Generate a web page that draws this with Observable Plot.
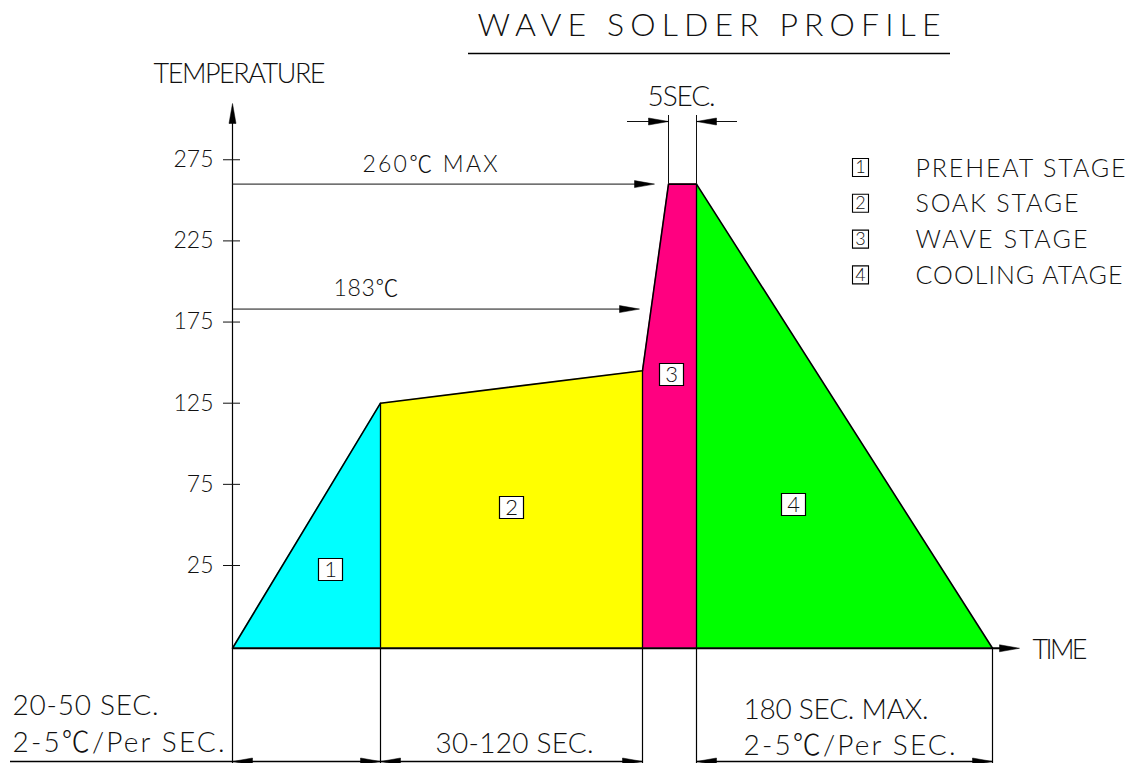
<!DOCTYPE html>
<html><head><meta charset="utf-8">
<script src="https://cdn.jsdelivr.net/npm/d3@7"></script>
<script src="https://cdn.jsdelivr.net/npm/@observablehq/plot@0.6"></script>
<style>html,body{margin:0;padding:0;background:#fff;overflow:hidden}</style>
</head><body><div id="chart"></div>
<script>
// ---- data ----
const stageNumbers = ["1", "2", "3", "4"];
const stageNames = ["PREHEAT STAGE", "SOAK STAGE", "WAVE STAGE", "COOLING ATAGE"];
const stageColors = ["#00ffff", "#ffff00", "#ff0080", "#00ff00"];
const stageStart = [0, 74, 205, 232];
const stageEnd = [74, 205, 232, 380];
const profileTime = [0, 74, 205, 218, 232, 380];
const profileTemp = [-26, 125, 145, 260, 260, -26];
const yTicks = [25, 75, 125, 175, 225, 275];
const yTickLabels = ["25", "75", "125", "175", "225", "275"];
const baseTemp = -26;
const peakTemp = 260;
const liquidusTemp = 183;
const titleText = "WAVE SOLDER PROFILE";
const yTitle = "TEMPERATURE";
const xTitle = "TIME";
const peakLabel = "260℃ MAX";
const liquidusLabel = "183℃";
const dwellLabel = "5SEC.";
const preheatLabels = ["20-50 SEC.", "2-5℃/Per SEC."];
const soakLabel = "30-120 SEC.";
const coolingLabels = ["180 SEC. MAX.", "2-5℃/Per SEC."];

// ---- layout helpers (pixel -> scale units, for annotations only) ----
const X = p => (p - 232) / 2;
const Y = p => 25 + (565 - p) / 1.623;
const font = "Lato,'Noto Sans CJK JP','DejaVu Sans Condensed',sans-serif";
const weight = 300;
const ink = "#111";
// target text widths in pixels (CAD lettering is widely spaced)
const textWidths = new Map([
  [titleText, 463], [yTitle, 172], [xTitle, 55], [peakLabel, 135], [liquidusLabel, 65],
  [dwellLabel, 68], [preheatLabels[0], 146], [preheatLabels[1], 212], [soakLabel, 158],
  [coolingLabels[0], 185], [stageNames[0], 210], [stageNames[1], 163], [stageNames[2], 172],
  [stageNames[3], 207]
]);

const profile = profileTime.map((t, i) => ({t, temp: profileTemp[i]}));
const tempAt = t => profileTemp[profileTime.indexOf(t)];
const areaRows = stageStart.flatMap((s, i) =>
  profile.filter(d => d.t >= s && d.t <= stageEnd[i]).map(d => ({...d, stage: i})));

const head = {draw(ctx) { ctx.moveTo(0, 0); ctx.lineTo(3.5, 20); ctx.lineTo(-3.5, 20); ctx.closePath(); }};
const box = (w, h) => ({draw(ctx) { ctx.rect(-w / 2, -h / 2, w, h); }});

const dimY = Y(761);
const dwellY = Y(121);
const arrows = [
  {x: 0, y: Y(103), r: 0},
  {x: X(1019), y: baseTemp, r: 90},
  {x: X(654), y: peakTemp, r: 90},
  {x: X(639), y: liquidusTemp, r: 90},
  {x: profileTime[3], y: dwellY, r: 90},
  {x: profileTime[4], y: dwellY, r: 270},
  {x: stageStart[0], y: dimY, r: 270}, {x: stageEnd[0], y: dimY, r: 90},
  {x: stageStart[1], y: dimY, r: 270}, {x: stageEnd[1], y: dimY, r: 90},
  {x: stageStart[3], y: dimY, r: 270}, {x: stageEnd[3], y: dimY, r: 90}
];
const numberPos = [[330, 569], [511, 507], [671, 374], [793, 504]];

const T = (text, x, y, size, anchor = "start") => Plot.text([text], {
  x: () => x, y: () => y, text: d => d, fontSize: size, textAnchor: anchor,
  lineAnchor: "bottom", fill: ink, fontFamily: font, fontWeight: weight
});

const plot = Plot.plot({
  width: 1133, height: 763,
  marginTop: 0, marginRight: 0, marginBottom: 0, marginLeft: 0,
  x: {domain: [X(0), X(1133)], axis: null},
  y: {domain: [Y(763), Y(0)], axis: null},
  style: {background: "#fff", fontFamily: font},
  marks: [
    // stage fills
    Plot.area(areaRows, {x1: "t", y1: () => baseTemp, y2: "temp", z: "stage",
      fill: d => stageColors[d.stage], curve: "linear"}),
    // stage separators
    Plot.ruleX(stageEnd.slice(0, 3), {x: d => d, y1: () => baseTemp, y2: d => tempAt(d), stroke: "black", strokeWidth: 1.3}),
    // profile outline
    Plot.line(profile, {x: "t", y: "temp", stroke: "black", strokeWidth: 1.6}),
    // axes
    Plot.ruleX([0], {x: d => d, y1: () => Y(763), y2: () => Y(110), stroke: "black", strokeWidth: 1.2}),
    Plot.ruleY([baseTemp], {y: d => d, x1: () => 0, x2: () => X(1005), stroke: "black", strokeWidth: 1.8}),
    Plot.ruleY(yTicks, {y: d => d, x1: () => X(223), x2: () => X(240), stroke: ink, strokeWidth: 1}),
    Plot.text(yTicks, {x: () => 0, y: d => d, text: (d, i) => yTickLabels[i], dx: -19, textAnchor: "end",
      fontSize: 23, fill: ink, fontFamily: font, fontWeight: weight}),
    // reference lines
    Plot.ruleY([peakTemp], {y: d => d, x1: () => 0, x2: () => X(640), stroke: ink, strokeWidth: 1}),
    Plot.ruleY([liquidusTemp], {y: d => d, x1: () => 0, x2: () => X(625), stroke: ink, strokeWidth: 1}),
    // dwell dimension
    Plot.ruleX([profileTime[3], profileTime[4]], {x: d => d, y1: () => Y(115), y2: () => peakTemp, stroke: ink, strokeWidth: 1}),
    Plot.ruleY([dwellY], {y: d => d, x1: () => X(627), x2: () => profileTime[3], stroke: ink, strokeWidth: 1}),
    Plot.ruleY([dwellY], {y: d => d, x1: () => profileTime[4], x2: () => X(737), stroke: ink, strokeWidth: 1}),
    // bottom extension lines
    Plot.ruleX([stageStart[1], stageStart[2], stageStart[3], stageEnd[3]], {x: d => d, y1: () => Y(763), y2: () => baseTemp, stroke: "black", strokeWidth: 1.2}),
    // bottom dimension lines
    Plot.ruleY([dimY], {y: d => d, x1: () => X(10), x2: () => stageEnd[1], stroke: "black", strokeWidth: 1.3}),
    Plot.ruleY([dimY], {y: d => d, x1: () => stageStart[3], x2: () => stageEnd[3], stroke: "black", strokeWidth: 1.3}),
    // arrow heads
    Plot.dot(arrows, {x: "x", y: "y", rotate: "r", symbol: head, fill: "black", stroke: "black", strokeWidth: 0.5}),
    // stage number boxes
    Plot.dot(stageNumbers, {x: (d, i) => X(numberPos[i][0]), y: (d, i) => Y(numberPos[i][1]), symbol: box(24, 22),
      fill: "white", stroke: "black", strokeWidth: 1.2}),
    Plot.text(stageNumbers, {x: (d, i) => X(numberPos[i][0]), y: (d, i) => Y(numberPos[i][1]), text: d => d,
      fontSize: 22, fill: ink, fontFamily: font, fontWeight: weight, lineAnchor: "middle"}),
    // legend
    Plot.dot(stageNumbers, {x: () => X(860), y: (d, i) => Y(167 + i * 35.8), symbol: box(16, 18),
      fill: "white", stroke: "black", strokeWidth: 1.1}),
    Plot.text(stageNumbers, {x: () => X(860), y: (d, i) => Y(167 + i * 35.8), text: d => d,
      fontSize: 18, fill: ink, fontFamily: font, fontWeight: weight, lineAnchor: "middle"}),
    Plot.text(stageNames, {x: () => X(915), y: (d, i) => Y(176 + i * 35.8), text: d => d,
      fontSize: 25, fill: ink, fontFamily: font, fontWeight: weight, textAnchor: "start", lineAnchor: "bottom"}),
    // titles and labels
    T(titleText, X(477), Y(35), 32),
    Plot.ruleY([Y(53)], {y: d => d, x1: () => X(468), x2: () => X(950), stroke: "black", strokeWidth: 1.4}),
    T(yTitle, X(153), Y(82), 27),
    T(xTitle, X(1032), Y(658), 27),
    T(peakLabel, X(362), Y(171), 23),
    T(liquidusLabel, X(333), Y(295), 23),
    T(dwellLabel, X(681), Y(105), 28, "middle"),
    T(preheatLabels[0], X(12), Y(714), 28),
    T(preheatLabels[1], X(12), Y(751), 28),
    T(soakLabel, X(514), Y(752), 28, "middle"),
    T(coolingLabels[0], X(743), Y(718), 28),
    T(coolingLabels[1], X(743), Y(754), 28)
  ]
});
d3.select(plot).selectAll("text").each(function() {
  const w = textWidths.get(this.textContent);
  if (w) d3.select(this).attr("textLength", w).attr("lengthAdjust", "spacing");
});
document.getElementById("chart").appendChild(plot);
</script>
</body></html>
